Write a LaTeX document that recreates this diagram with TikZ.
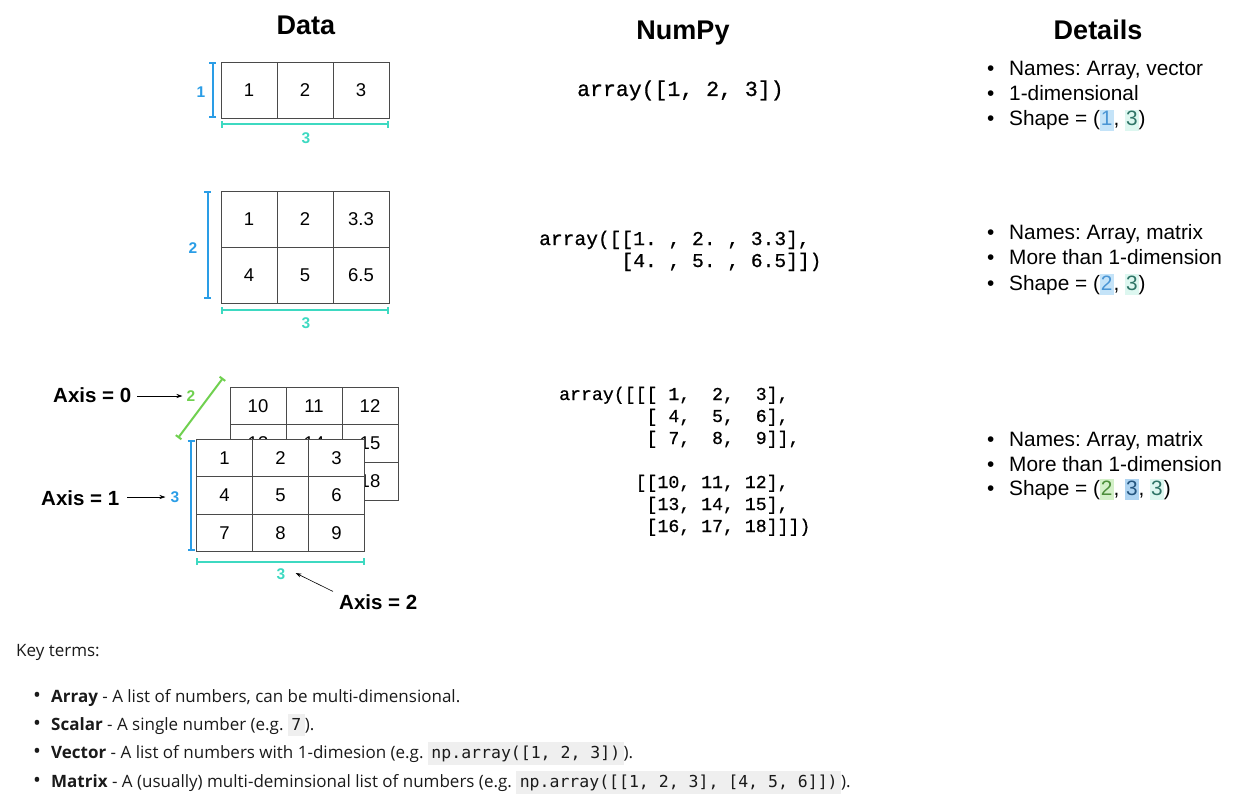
\documentclass[tikz,border=0pt]{standalone}
\usepackage{fontspec}
\setmainfont{Liberation Sans}
\newfontfamily\npfont[FakeBold=0.7]{Liberation Mono}
\newfontfamily\keyfont{Open Sans}
\newfontfamily\kcode{DejaVu Sans Mono}
\usetikzlibrary{arrows.meta}
\definecolor{dimblue}{HTML}{2A9DE6}
\definecolor{dimteal}{HTML}{3DD9C1}
\definecolor{dimgreen}{HTML}{6FD04F}
\definecolor{gridline}{HTML}{4A4A4A}
\definecolor{hlblue}{HTML}{C4E3F8}
\definecolor{hlmint}{HTML}{DDF7F0}
\definecolor{hlgreen}{HTML}{D3F0C8}
\definecolor{hlbluedk}{HTML}{AED4F2}
\definecolor{txblue}{HTML}{4A95D4}
\definecolor{txteal}{HTML}{2E7466}
\definecolor{txgreen}{HTML}{4C8F3A}
\definecolor{txnavy}{HTML}{24557F}
\definecolor{codebg}{HTML}{EFEFEF}
\definecolor{keytext}{HTML}{1A1A1A}
\newcommand\fsz[1]{\fontsize{#1}{#1}\selectfont}
\newcommand\hlx[3]{{\setlength{\fboxsep}{1pt}\colorbox{#1}{\textcolor{#2}{\vphantom{()}#3}}}}
\newcommand\kbox[1]{{\setlength{\fboxsep}{3.5pt}\colorbox{codebg}{\kcode\fsz{16.5}\vphantom{()}#1}}}
\begin{document}
\frenchspacing
\begin{tikzpicture}[x=1pt,y=-1pt,
  title/.style={font=\fsz{27}\bfseries, anchor=base, inner sep=0pt},
  cell/.style={draw=gridline, line width=0.9pt, minimum width=56pt, minimum height=56pt, inner sep=0pt, font=\fsz{18.5}},
  cellc/.style={cell, minimum height=37.5pt, fill=white},
  dim/.style={line width=2pt, {Bar[width=7pt]}-{Bar[width=7pt]}},
  dimlab/.style={font=\fsz{15.5}\bfseries, inner sep=0pt},
  npa/.style={font=\npfont\fsz{21.5}, anchor=base west, inner sep=0pt},
  npb/.style={font=\npfont\fsz{19.6}, anchor=base west, inner sep=0pt},
  npc/.style={font=\npfont\fsz{18.2}, anchor=base west, inner sep=0pt},
  det/.style={font=\fsz{20.8}, anchor=base west, inner sep=0pt},
  axislab/.style={font=\fsz{20.5}\bfseries, anchor=base west, inner sep=0pt},
  ptr/.style={line width=0.6pt, -{Stealth[length=6pt,width=4pt]}},
  keyline/.style={font=\keyfont\fsz{17}, text=keytext, anchor=base west, inner sep=0pt}
]
\useasboundingbox (0,0) rectangle (1249,802);

% titles
\node[title] (tdata) at (306,35) {Data};
\node[title] (tnumpy) at (683,40) {NumPy};
\node[title] (tdetails) at (1098,40) {Details};

% ---- 1D array
\foreach \v [count=\i] in {1,2,3}
  \node[cell] (ga\i) at ({249+56*(\i-1)},90) {\v};
\draw[dim, dimblue] ([xshift=-8pt]ga1.north west) -- ([xshift=-8pt]ga1.south west);
\draw[dim, dimteal] ([yshift=-6pt]ga1.south west) -- ([yshift=-6pt]ga3.south east);
\node[dimlab, text=dimblue] (la1) at (201,92) {1};
\node[dimlab, text=dimteal] (la2) at (306,138) {3};

% ---- 2D array
\foreach \v [count=\i] in {1,2,3.3}
  \node[cell] (gb1\i) at ({249+56*(\i-1)},219) {\v};
\foreach \v [count=\i] in {4,5,6.5}
  \node[cell] (gb2\i) at ({249+56*(\i-1)},275) {\v};
\draw[dim, dimblue] ([xshift=-13pt]gb11.north west) -- ([xshift=-13pt,yshift=4pt]gb21.south west);
\draw[dim, dimteal] ([yshift=-7pt]gb21.south west) -- ([yshift=-7pt]gb23.south east);
\node[dimlab, text=dimblue] (lb1) at (193,248) {2};
\node[dimlab, text=dimteal] (lb2) at (306,323) {3};

% ---- 3D array (back layer)
\foreach \v [count=\i] in {10,11,12}
  \node[cellc] (gk1\i) at ({258+56*(\i-1)},405.8) {\v};
\foreach \v [count=\i] in {13,14,15}
  \node[cellc] (gk2\i) at ({258+56*(\i-1)},443.5) {\v};
\foreach \v [count=\i] in {16,17,18}
  \node[cellc] (gk3\i) at ({258+56*(\i-1)},481.2) {\v};
% front layer
\foreach \v [count=\i] in {1,2,3}
  \node[cellc] (gf1\i) at ({224.5+56*(\i-1)},458) {\v};
\foreach \v [count=\i] in {4,5,6}
  \node[cellc] (gf2\i) at ({224.5+56*(\i-1)},495.5) {\v};
\foreach \v [count=\i] in {7,8,9}
  \node[cellc] (gf3\i) at ({224.5+56*(\i-1)},533) {\v};

\coordinate (gz1) at (178,438);
\coordinate (gz2) at (223,378);
\draw[dim, dimgreen] (gz1) -- (gz2);
\draw[dim, dimblue] ([xshift=-5pt,yshift=-1.5pt]gf11.north west) -- ([xshift=-5pt,yshift=1.5pt]gf31.south west);
\draw[dim, dimteal] ([yshift=-9.5pt]gf31.south west) -- ([yshift=-9.5pt]gf33.south east);
\node[dimlab, text=dimgreen] (lc0) at (191,396) {2};
\node[dimlab, text=dimblue] (lc1) at (175,497) {3};
\node[dimlab, text=dimteal] (lc2) at (281,574) {3};

\node[axislab] (ax0) at (53,402.5) {Axis = 0};
\node[axislab] (ax1) at (41,505.5) {Axis = 1};
\node[axislab] (ax2) at (339,609.5) {Axis = 2};
\draw[ptr] ([xshift=6pt]ax0.east |- 0,396) -- ([xshift=-4pt]lc0.west);
\draw[ptr] ([xshift=8pt]ax1.east |- 0,497) -- ([xshift=-5pt]lc1.west);
\draw[ptr] ([xshift=-6pt,yshift=3pt]ax2.north west) -- ([xshift=10pt,yshift=1pt]lc2.east);

% ---- NumPy code
\node[npa] (c1) at (577,96) {array([1, 2, 3])};
\node[npb] (c2a) at (539,245) {array([[1. , 2. , 3.3],};
\node[npb] (c2b) at (539,267) {\ \ \ \ \ \ \ [4. , 5. , 6.5]])};
\node[npc] (c3a) at (559,400) {array([[[ 1,\ \ 2,\ \ 3],};
\node[npc] (c3b) at (559,422) {\ \ \ \ \ \ \ \ [ 4,\ \ 5,\ \ 6],};
\node[npc] (c3c) at (559,444) {\ \ \ \ \ \ \ \ [ 7,\ \ 8,\ \ 9]],};
\node[npc] (c3d) at (559,488) {\ \ \ \ \ \ \ [[10, 11, 12],};
\node[npc] (c3e) at (559,510) {\ \ \ \ \ \ \ \ [13, 14, 15],};
\node[npc] (c3f) at (559,532) {\ \ \ \ \ \ \ \ [16, 17, 18]]])};

% ---- Details
\node[det] (d11) at (987,76) {\makebox[22pt][l]{\textbullet}Names: Array, vector};
\node[det] (d12) at (987,101) {\makebox[22pt][l]{\textbullet}1-dimensional};
\node[det] (d13) at (987,126) {\makebox[22pt][l]{\textbullet}Shape = (\hlx{hlblue}{txblue}{1}, \hlx{hlmint}{txteal}{3})};
\node[det] (d21) at (987,240) {\makebox[22pt][l]{\textbullet}Names: Array, matrix};
\node[det] (d22) at (987,265) {\makebox[22pt][l]{\textbullet}More than 1-dimension};
\node[det] (d23) at (987,290) {\makebox[22pt][l]{\textbullet}Shape = (\hlx{hlblue}{txblue}{2}, \hlx{hlmint}{txteal}{3})};
\node[det] (d31) at (987,446) {\makebox[22pt][l]{\textbullet}Names: Array, matrix};
\node[det] (d32) at (987,471) {\makebox[22pt][l]{\textbullet}More than 1-dimension};
\node[det] (d33) at (987,495) {\makebox[22pt][l]{\textbullet}Shape = (\hlx{hlgreen}{txgreen}{2}, \hlx{hlbluedk}{txnavy}{3}, \hlx{hlmint}{txteal}{3})};

% ---- Key terms
\node[keyline] (kt) at (16,656) {Key terms:};
\node[keyline] (k1) at (33,702) {\makebox[18pt][l]{\fsz{21}\textbullet}\textbf{Array} - A list of numbers, can be multi-dimensional.};
\node[keyline] (k2) at (33,730) {\makebox[18pt][l]{\fsz{21}\textbullet}\textbf{Scalar} - A single number (e.g. \kbox{7}).};
\node[keyline] (k3) at (33,758) {\makebox[18pt][l]{\fsz{21}\textbullet}\textbf{Vector} - A list of numbers with 1-dimesion (e.g. \kbox{np.array([1, 2, 3])}).};
\node[keyline] (k4) at (33,787) {\makebox[18pt][l]{\fsz{21}\textbullet}\textbf{Matrix} - A (usually) multi-deminsional list of numbers (e.g. \kbox{np.array([[1, 2, 3], [4, 5, 6]])}).};
\end{tikzpicture}
\end{document}
